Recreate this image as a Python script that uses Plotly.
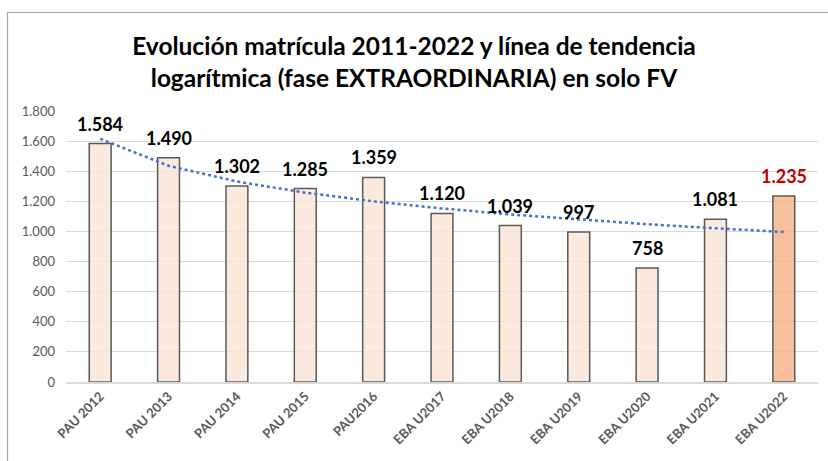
import numpy as np
import plotly.graph_objects as go

categories = ["PAU 2012", "PAU 2013", "PAU 2014", "PAU 2015", "PAU2016", "EBAU2017",
              "EBAU2018", "EBAU2019", "EBAU2020", "EBAU2021", "EBAU2022"]
tick_labels = ["PAU 2012", "PAU 2013", "PAU 2014", "PAU 2015", "PAU2016", "EBA U2017",
               "EBA U2018", "EBA U2019", "EBA U2020", "EBA U2021", "EBA U2022"]
values = [1584, 1490, 1302, 1285, 1359, 1120, 1039, 997, 758, 1081, 1235]

# logarithmic trend line fitted to the values
xs = np.arange(1, len(values) + 1)
a, b = np.polyfit(np.log(xs), values, 1)
trend = a * np.log(xs) + b

bar_colors = ["rgba(251,229,214,0.8)"] * (len(values) - 1) + ["rgba(244,177,131,0.8)"]
label_colors = ["#000000"] * (len(values) - 1) + ["#C00000"]

W, H = 828, 461
L, R, T, B = 66, 10, 111, 79
pw, ph = W - L - R, H - T - B

fig = go.Figure()
fig.add_trace(go.Bar(
    x=categories, y=values, width=0.32,
    marker=dict(color=bar_colors, line=dict(color="#595959", width=1.5)),
    hoverinfo="skip",
))
fig.add_trace(go.Scatter(
    x=categories, y=trend, mode="lines",
    line=dict(color="#4472C4", width=2.5, dash="dot"),
    hoverinfo="skip",
))

for c, v, col in zip(categories, values, label_colors):
    fig.add_annotation(x=c, y=v, text=f"<b>{v:,}</b>".replace(",", "."),
                       showarrow=False, yshift=20,
                       font=dict(size=18, color=col, family="Lato, Noto Sans, sans-serif"))

fig.update_layout(
    width=W, height=H,
    margin=dict(l=L, r=R, t=T, b=B),
    paper_bgcolor="white", plot_bgcolor="white",
    showlegend=False,
    separators=",.",
    font=dict(family="Lato, Noto Sans, sans-serif", color="#595959", size=12),
    title=dict(
        text="<b>Evolución matrícula 2011-2022 y línea de tendencia<br>logarítmica (fase EXTRAORDINARIA) en solo FV</b>",
        x=0.5, xanchor="center", xref="container",
        y=1 - 55 / H, yanchor="middle", yref="container",
        font=dict(size=24.5, color="#000000", family="Lato, Noto Sans, sans-serif"),
    ),
    xaxis=dict(
        tickmode="array", tickvals=categories,
        ticktext=[f"<b>{t}</b>" for t in tick_labels],
        tickangle=-45, showgrid=False, showline=True, linecolor="#D9D9D9",
        linewidth=1.5, ticks="", tickfont=dict(size=13, color="#595959"),
        range=[-0.5, len(values) - 0.5],
    ),
    yaxis=dict(
        range=[0, 1800], dtick=200, tickformat=",d", showgrid=True,
        gridcolor="#D9D9D9", gridwidth=1.2, zeroline=False, showline=False,
        ticks="", tickfont=dict(size=13, color="#595959"), ticklabelstandoff=10,
    ),
    shapes=[dict(type="rect", xref="paper", yref="paper",
                 x0=-(L - 7.5) / pw, x1=1 + 20 / pw,
                 y0=-(B + 20) / ph, y1=1 + (T - 12.5) / ph,
                 line=dict(color="#A6A6A6", width=1.2))],
)

fig.write_html("out.html", config={"displayModeBar": False},
               post_script="document.body.style.margin='0';")
